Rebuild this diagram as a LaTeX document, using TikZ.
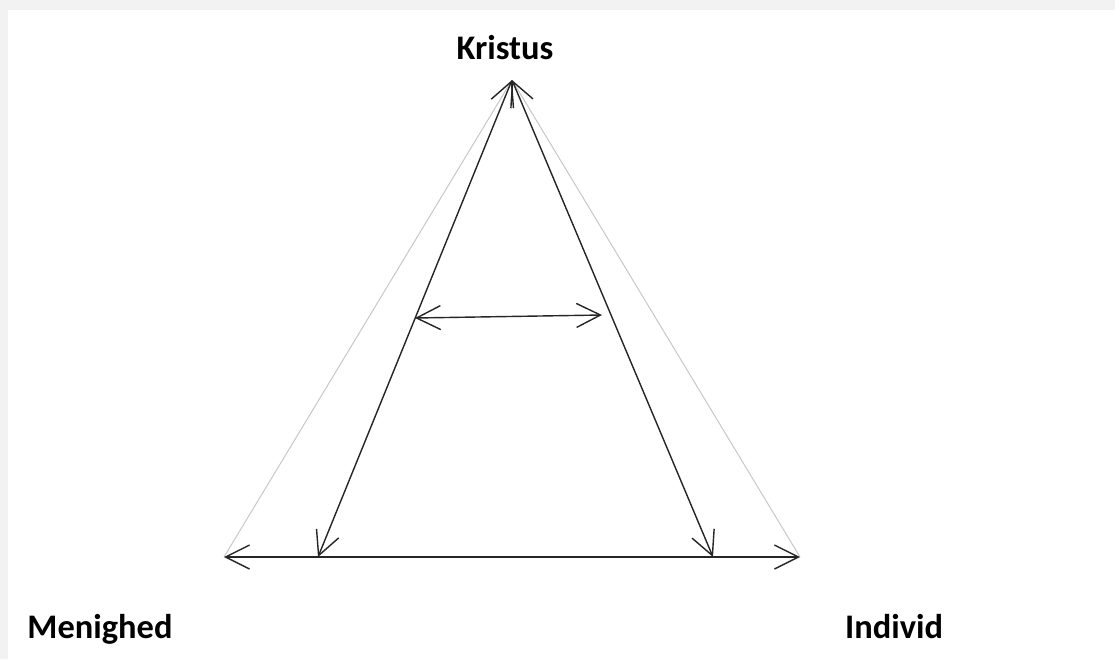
\documentclass[tikz,border=0pt]{standalone}
\usepackage{fontspec}
\setmainfont{Carlito}
\usepackage{xcolor}
\usepackage{tikz}
\usetikzlibrary{arrows.meta}
\tikzset{
  triflow/.style  = {{Straight Barb[length=6mm,width=6mm]}-{Straight Barb[length=6mm,width=6mm]},
                     draw=black!85, line width=1pt},
  triguide/.style = {draw=black!22, line width=0.7pt},
  trilbl/.style   = {font=\fontsize{24.5}{28}\selectfont\bfseries, inner sep=0pt, anchor=base},
}
\begin{document}
\begin{tikzpicture}[x=0.025cm, y=-0.025cm]
  % frame with the light shadow at top and left
  \fill[black!5] (0,0) rectangle (1115,659);
  \fill[white] (8,10) rectangle (1115,659);
  \useasboundingbox (0,0) rectangle (1115,659);

  \coordinate (top) at (512,80);
  \coordinate (ml)  at (224,557);
  \coordinate (mr)  at (800,557);
  \coordinate (il)  at (318,557);
  \coordinate (ir)  at (713,557);
  \coordinate (hl)  at (415,318);
  \coordinate (hr)  at (602,315);

  \node[trilbl] (kristus)  at (505,59)  {Kristus};
  \node[trilbl] (menighed) at (100,638) {Menighed};
  \node[trilbl] (individ)  at (894,638) {Individ};

  \draw[triguide] (top) -- (ml);
  \draw[triguide] (top) -- (mr);
  \draw[triflow] (ml) -- (mr);
  \draw[triflow] (top) -- (il);
  \draw[triflow] (top) -- (ir);
  \draw[triflow] (hl) -- (hr);
\end{tikzpicture}
\end{document}
